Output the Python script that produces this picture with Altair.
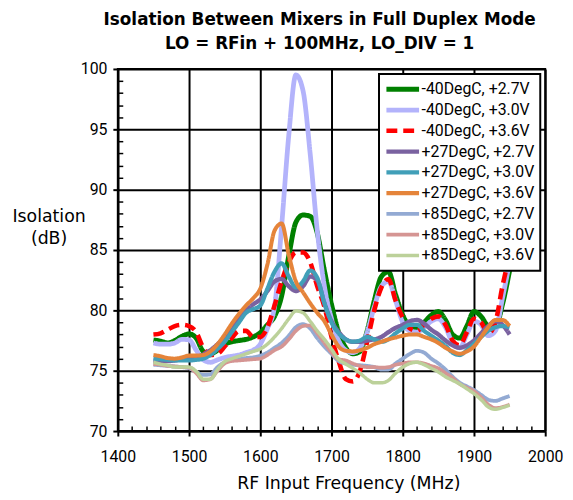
import altair as alt
import pandas as pd

FONT = "Roboto"
WFONT = "DejaVu Sans"

freq = list(range(1450, 1951, 10))

series_names = [
    "-40DegC, +2.7V", "-40DegC, +3.0V", "-40DegC, +3.6V",
    "+27DegC, +2.7V", "+27DegC, +3.0V", "+27DegC, +3.6V",
    "+85DegC, +2.7V", "+85DegC, +3.0V", "+85DegC, +3.6V",
]

m40_27 = [77.55, 77.45, 77.3, 77.5, 77.85, 78.05, 77.7, 76.6, 76.4, 76.7,
          77.2, 77.4, 77.5, 77.6, 77.8, 78.15, 78.8, 79.5, 81.2, 84.5,
          87.3, 87.9, 87.8, 86.4, 83.3, 80.5, 78.2, 76.9, 76.4, 76.6,
          78.3, 80.8, 82.8, 83.2, 81.3, 79.6, 78.7, 78.5, 79.0, 79.6,
          79.9, 79.2, 78.0, 77.7, 78.7, 79.9, 79.5, 78.7, 78.6, 80.5,
          83.3]
m40_30 = [77.3, 77.2, 77.2, 77.3, 77.6, 77.55, 76.7, 75.9, 75.7, 75.9,
          76.1, 76.2, 76.3, 76.5, 76.7, 77.2, 78.5, 80.3, 87.0, 94.5,
          99.5, 98.2, 93.0, 86.6, 82.0, 79.3, 77.5, 76.7, 76.5, 76.9,
          78.2, 80.3, 82.0, 82.4, 80.8, 79.0, 78.3, 78.2, 78.6, 79.1,
          79.3, 78.6, 77.3, 76.9, 78.0, 79.1, 78.8, 77.9, 78.3, 81.0,
          84.0]
m40_36 = [78.0, 78.1, 78.4, 78.7, 78.8, 78.7, 78.2, 76.9, 76.3, 76.4,
          77.0, 77.7, 78.3, 78.3, 77.8, 77.8, 78.6, 80.4, 82.4, 84.0,
          84.8, 84.8, 84.0, 82.0, 80.3, 77.8, 75.8, 74.3, 74.1, 75.0,
          77.4, 80.0, 81.9, 82.6, 80.8, 79.4, 78.5, 78.3, 78.8, 79.3,
          79.5, 78.8, 77.5, 77.1, 78.2, 79.3, 79.0, 78.1, 79.0, 82.0,
          84.6]
p27_27 = [75.85, 75.8, 75.8, 75.85, 75.95, 76.0, 76.1, 76.35, 76.7, 77.2,
          77.8, 78.6, 79.4, 80.0, 80.5, 80.9, 81.6, 82.4, 82.6, 82.0,
          81.6, 82.0, 82.8, 82.5, 80.6, 79.1, 78.2, 77.6, 77.4, 77.4,
          77.5, 77.6, 77.8, 78.2, 78.55, 78.8, 79.1, 79.2, 78.9, 78.4,
          78.0, 77.5, 77.1, 76.9, 77.1, 77.5, 78.1, 78.7, 79.1, 78.8,
          78.0]
p27_30 = [76.0, 75.95, 75.9, 75.85, 75.85, 75.85, 75.9, 76.0, 76.3, 76.8,
          77.4, 78.2, 79.0, 79.8, 80.1, 80.4, 81.8, 83.2, 83.9, 82.8,
          81.9, 82.4, 83.3, 82.7, 80.6, 79.0, 78.1, 77.6, 77.4, 77.5,
          77.8, 77.6, 77.4, 77.6, 78.1, 78.5, 78.8, 78.8, 78.3, 77.9,
          77.5, 77.05, 76.5, 76.3, 76.7, 77.25, 77.8, 78.3, 78.6, 78.7,
          78.6]
p27_36 = [76.3, 76.2, 76.05, 76.0, 76.1, 76.25, 76.25, 76.3, 76.6, 77.2,
          78.0, 78.9, 79.7, 80.4, 81.0, 81.8, 83.8, 86.6, 87.2, 84.6,
          82.4, 81.5, 80.6, 79.8, 79.1, 78.0, 77.0, 76.65, 76.6, 76.7,
          76.9, 77.2, 77.4, 77.6, 77.75, 77.9, 78.0, 78.0, 77.8, 77.6,
          77.3, 76.9, 76.6, 76.4, 76.6, 77.0, 77.8, 78.6, 79.2, 79.2,
          78.7]
p85_27 = [75.5, 75.45, 75.4, 75.35, 75.3, 75.2, 74.9, 74.65, 74.7, 75.3,
          75.7, 75.85, 75.95, 76.05, 76.1, 76.25, 76.5, 76.9, 77.3, 77.9,
          78.6, 78.85, 78.5, 77.7, 77.0, 76.4, 75.8, 75.6, 75.5, 75.45,
          75.4, 75.3, 75.1, 75.1, 75.6, 76.0, 76.4, 76.65, 76.5, 76.0,
          75.6, 75.1, 74.5, 74.0, 73.7, 73.4, 73.0, 72.6, 72.5, 72.7,
          72.9]
p85_30 = [75.55, 75.5, 75.4, 75.35, 75.3, 75.25, 74.8, 74.2, 74.3, 75.0,
          75.6, 75.8, 75.85, 75.9, 75.95, 76.0, 76.3, 76.7, 77.0, 77.6,
          78.3, 78.7, 78.75, 78.1, 77.3, 76.5, 75.95, 75.85, 75.6, 75.4,
          75.3, 75.3, 75.25, 75.3, 75.5, 75.6, 75.7, 75.7, 75.6, 75.4,
          75.2, 74.8, 74.4, 73.9, 73.6, 73.3, 72.8, 72.2, 71.9, 72.0,
          72.2]
p85_36 = [75.7, 75.55, 75.45, 75.3, 75.3, 75.3, 74.95, 74.3, 74.3, 75.1,
          75.75, 76.0, 76.2, 76.4, 76.6, 76.8, 77.2, 77.8, 78.5, 79.3,
          79.95, 79.8, 79.1, 78.3, 77.6, 76.8, 75.95, 75.55, 75.2, 74.8,
          74.3, 74.0, 74.0, 74.2, 74.8, 75.3, 75.6, 75.7, 75.5, 75.2,
          74.9, 74.5, 74.2, 73.9, 73.5, 73.1, 72.6, 72.0, 71.8, 71.95,
          72.15]

all_series = [m40_27, m40_30, m40_36, p27_27, p27_30, p27_36, p85_27, p85_30, p85_36]

colors = ["#008000", "#b3b3fb", "#ff0000", "#7a62a0", "#419fb8", "#e5843a",
          "#93aad3", "#d59593", "#bcd19a"]
dashes = [[1, 0], [1, 0], [11, 6], [1, 0], [1, 0], [1, 0], [1, 0], [1, 0], [1, 0]]
widths = [5, 3.5, 4, 3.5, 3.5, 3.5, 3.5, 3.5, 3.5]

x_major = list(range(1400, 2001, 100))
x_minor = [v for v in range(1400, 2001, 20) if v % 100 != 0]
y_major = list(range(70, 101, 5))
y_minor = [v for v in range(70, 101) if v % 5 != 0]

rows = []
for name, vals in zip(series_names, all_series):
    for f, v in zip(freq, vals):
        rows.append({"freq": f, "iso": v, "series": name})
df = pd.DataFrame(rows)

x_scale = alt.Scale(domain=[1400, 2000], nice=False, zero=False)
y_scale = alt.Scale(domain=[70, 100], nice=False, zero=False)

leg = alt.Legend(
    title=None, orient="none", legendX=264, legendY=5,
    symbolType="stroke", symbolSize=1089, symbolStrokeWidth=4,
    labelFontSize=16, labelFont=FONT, labelColor="black", labelLimit=300,
    strokeColor="black", fillColor="white", padding=5,
    clipHeight=21, rowPadding=0, labelOffset=0,
)

lines = alt.Chart(df).mark_line(interpolate="monotone").encode(
    x=alt.X("freq:Q", scale=x_scale, axis=alt.Axis(
        orient="bottom", values=x_major, format="d",
        title="RF Input Frequency (MHz)", titleFont=WFONT, titleFontSize=17.5,
        titleFontWeight="normal", titleColor="black",
        titleX=233, titleY=53, titleAlign="center", titleBaseline="middle",
        grid=True, gridColor="black", gridWidth=2,
        domainColor="black", domainWidth=2,
        tickColor="black", tickWidth=2, tickSize=5,
        labelFont=FONT, labelFontSize=16, labelColor="black", labelPadding=13,
        labelFlush=False)),
    y=alt.Y("iso:Q", scale=y_scale, axis=alt.Axis(
        orient="left", values=y_major,
        title=["Isolation", "(dB)"], titleFont=WFONT, titleFontSize=17.5,
        titleFontWeight="normal", titleColor="black", titleAngle=0,
        titleX=-70, titleY=149, titleAlign="center", titleBaseline="middle",
        titleLineHeight=22,
        grid=True, gridColor="black", gridWidth=2,
        domainColor="black", domainWidth=2,
        tickColor="black", tickWidth=2, tickSize=5,
        labelFont=FONT, labelFontSize=16, labelColor="black", labelPadding=6)),
    color=alt.Color("series:N", scale=alt.Scale(domain=series_names, range=colors),
                    sort=series_names, legend=leg),
    strokeDash=alt.StrokeDash("series:N", scale=alt.Scale(domain=series_names, range=dashes),
                              sort=series_names, legend=leg),
    strokeWidth=alt.StrokeWidth("series:N", scale=alt.Scale(domain=series_names, range=widths),
                                legend=None),
)

minor = alt.Chart(df).mark_point(opacity=0).encode(
    x=alt.X("freq:Q", scale=x_scale, axis=alt.Axis(
        orient="bottom", values=x_minor, labels=False, grid=False, domain=False,
        title=None, tickColor="black", tickWidth=1.5, tickSize=5, offset=-5)),
    y=alt.Y("iso:Q", scale=y_scale, axis=alt.Axis(
        orient="left", values=y_minor, labels=False, grid=False, domain=False,
        title=None, tickColor="black", tickWidth=1.5, tickSize=5, offset=-5)),
)

chart = alt.layer(minor, lines).resolve_axis(x="independent", y="independent").properties(
    width=432, height=366,
    autosize=alt.AutoSizeParams(type="none"),
    padding={"left": 111, "top": 59, "right": 20, "bottom": 62},
    title=alt.TitleParams(
        text=["Isolation Between Mixers in Full Duplex Mode", "LO = RFin + 100MHz, LO_DIV = 1"],
        font=WFONT, fontSize=17, fontWeight="bold", color="black",
        anchor="middle", frame="group", dx=-12, lineHeight=24, offset=8),
).configure_view(stroke="black", strokeWidth=2).configure_legend(strokeWidth=2)

chart.save("out.html", embed_options={"renderer": "svg", "actions": False})
